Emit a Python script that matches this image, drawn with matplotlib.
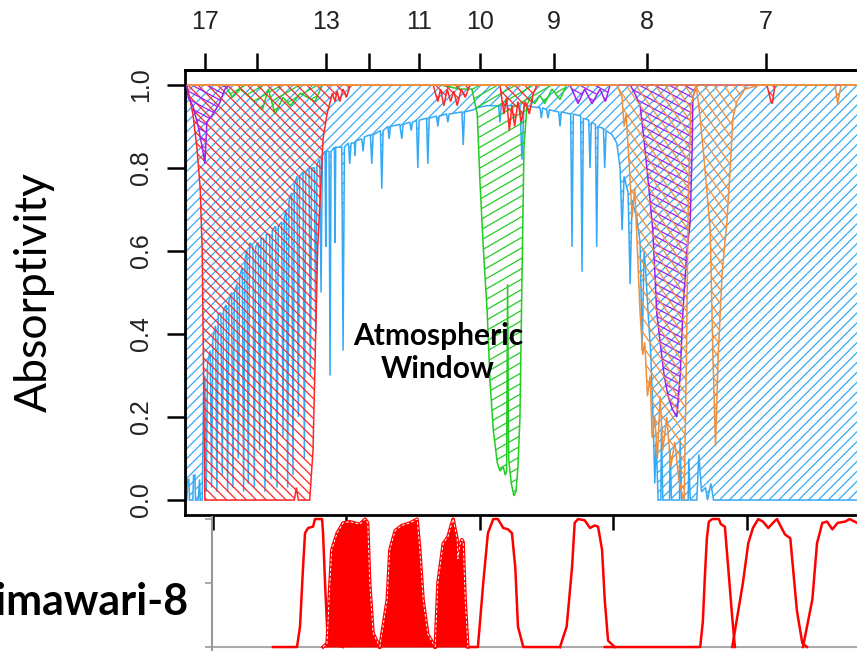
import numpy as np
import matplotlib
matplotlib.use("Agg")
import matplotlib.pyplot as plt
from matplotlib.path import Path
from matplotlib.patches import PathPatch
from matplotlib.collections import LineCollection
from matplotlib.transforms import Affine2D

plt.rcParams['font.family'] = ['Liberation Sans', 'DejaVu Sans']

# transmittance curves (wavenumber cm-1, value)
h2o_pts = [(560, 0.0), (561, 0.0), (562, 0.05), (564, 0.05), (565, 0.0), (570, 0.0), (571, 0.06),
           (573, 0.06), (574, 0.0), (578, 0.0), (580, 0.05), (581, 0.0), (584, 0.0), (586, 0.25),
           (588, 0.3), (590, 0.02), (592, 0.33), (596, 0.36), (598, 0.03), (600, 0.39), (604, 0.42),
           (606, 0.02), (608, 0.45), (612, 0.45), (614, 0.06), (616, 0.46), (620, 0.47), (622, 0.02),
           (624, 0.48), (628, 0.5), (630, 0.03), (632, 0.5), (636, 0.52), (638, 0.1), (640, 0.54),
           (644, 0.56), (646, 0.02), (648, 0.58), (651, 0.6), (653, 0.04), (655, 0.62), (660, 0.61),
           (662, 0.03), (664, 0.61), (668, 0.62), (670, 0.12), (672, 0.63), (676, 0.63), (678, 0.02),
           (680, 0.64), (685, 0.64), (687, 0.05), (689, 0.65), (694, 0.66), (696, 0.03), (698, 0.66),
           (703, 0.67), (705, 0.15), (707, 0.68), (710, 0.7), (712, 0.03), (714, 0.72), (718, 0.74),
           (720, 0.06), (722, 0.76), (726, 0.78), (728, 0.2), (730, 0.78), (735, 0.79), (737, 0.1),
           (739, 0.79), (744, 0.8), (746, 0.3), (748, 0.8), (752, 0.8), (754, 0.4), (756, 0.81),
           (760, 0.82), (762, 0.5), (764, 0.83), (768, 0.84), (769, 0.61), (770, 0.84), (774, 0.84),
           (775.5, 0.3), (777, 0.84), (782, 0.85), (783, 0.62), (784, 0.85), (793, 0.85), (795, 0.36),
           (797, 0.85), (803, 0.86), (805, 0.81), (807, 0.86), (812, 0.86), (813, 0.83), (814, 0.865),
           (823, 0.87), (825, 0.84), (827, 0.875), (836, 0.88), (838, 0.81), (840, 0.88), (851, 0.89),
           (853, 0.75), (855, 0.89), (862, 0.9), (864, 0.87), (866, 0.9), (880, 0.905), (883, 0.87),
           (885, 0.905), (895, 0.91), (897, 0.89), (899, 0.91), (905, 0.915), (907, 0.8), (909, 0.915),
           (920, 0.92), (922, 0.81), (924, 0.92), (935, 0.925), (937, 0.9), (939, 0.925), (950, 0.93),
           (952, 0.91), (954, 0.93), (973, 0.935), (975, 0.855), (977, 0.935), (990, 0.94),
           (996, 0.945), (1010, 0.95), (1028, 0.95), (1030, 0.91), (1032, 0.95), (1060, 0.95),
           (1063, 0.82), (1066, 0.95), (1090, 0.945), (1092, 0.92), (1094, 0.945), (1100, 0.94),
           (1102, 0.92), (1104, 0.94), (1118, 0.935), (1120, 0.9), (1122, 0.935), (1136, 0.93),
           (1138, 0.61), (1140, 0.93), (1151, 0.925), (1153, 0.55), (1155, 0.92), (1163, 0.915),
           (1165, 0.8), (1167, 0.91), (1173, 0.905), (1175, 0.61), (1177, 0.9), (1185, 0.895),
           (1187, 0.8), (1189, 0.89), (1198, 0.88), (1205, 0.86), (1210, 0.8), (1213, 0.65),
           (1216, 0.78), (1222, 0.74), (1225, 0.52), (1228, 0.72), (1235, 0.68), (1240, 0.62),
           (1243, 0.36), (1246, 0.6), (1248, 0.56), (1252, 0.45), (1256, 0.35), (1259, 0.22),
           (1262, 0.04), (1264, 0.14), (1267, 0.0), (1271, 0.0), (1272, 0.18), (1274, 0.0),
           (1284, 0.0), (1285, 0.12), (1287, 0.0), (1299, 0.0), (1300, 0.15), (1302, 0.0),
           (1312, 0.0), (1313, 0.1), (1315, 0.0), (1325, 0.0), (1328, 0.11), (1332, 0.02),
           (1338, 0.03), (1341, 0.0), (1346, 0.04), (1350, 0.0), (1586, 0.0)]

co2_pts = [(561, 1.0), (565, 0.97), (570, 0.93), (576, 0.85), (581, 0.75), (584, 0.6), (586, 0.3),
           (588, 0.0), (722, 0.0), (725, 0.03), (728, 0.0), (745, 0.0), (750, 0.12), (753, 0.33),
           (757, 0.61), (763, 0.8), (765, 0.87), (771, 0.93), (779, 0.98), (783, 0.96), (786, 0.985),
           (790, 0.96), (795, 0.99), (800, 0.97), (806, 1.0), (930, 1.0), (937, 0.96), (941, 0.99),
           (946, 0.95), (951, 0.99), (956, 0.96), (961, 0.985), (966, 0.95), (972, 0.99), (978, 0.97),
           (985, 1.0), (1030, 1.0), (1036, 0.93), (1040, 0.97), (1044, 0.89), (1048, 0.95),
           (1052, 0.9), (1057, 0.96), (1062, 0.91), (1068, 0.96), (1074, 0.93), (1080, 0.98),
           (1086, 1.0), (1430, 1.0), (1436, 0.96), (1438, 0.955), (1442, 1.0), (1586, 1.0)]

o3_pts = [(561, 1.0), (618, 1.0), (629, 0.97), (641, 0.99), (656, 0.97), (674, 0.94), (683, 0.99),
          (693, 0.93), (705, 0.97), (716, 0.95), (731, 0.98), (753, 0.96), (764, 1.0), (940, 1.0),
          (970, 0.99), (988, 0.99), (996, 0.93), (1000, 0.77), (1005, 0.61), (1011, 0.45),
          (1015, 0.29), (1020, 0.17), (1026, 0.09), (1030, 0.07), (1035, 0.08), (1038, 0.06),
          (1040, 0.07), (1041.5, 0.52), (1043, 0.1), (1047, 0.04), (1051, 0.01), (1054, 0.02),
          (1057, 0.08), (1060, 0.2), (1063, 0.53), (1066, 0.85), (1070.5, 0.95), (1075, 0.97),
          (1082, 0.955), (1090, 0.975), (1097, 0.955), (1108, 0.99), (1120, 0.965), (1130, 1.0),
          (1586, 1.0)]

n2o_pts = [(561, 1.0), (563, 0.97), (570, 0.95), (578, 0.9), (584, 0.85), (588, 0.81), (591, 0.91),
           (600, 0.93), (608, 0.95), (611, 0.96), (618, 0.99), (625, 1.0), (1135, 1.0),
           (1147, 0.955), (1157, 0.99), (1168, 0.955), (1180, 0.99), (1188, 0.96), (1195, 1.0),
           (1225, 1.0), (1232, 0.98), (1240, 0.95), (1247, 0.85), (1255, 0.72), (1259, 0.65),
           (1265, 0.45), (1270, 0.38), (1276, 0.3), (1282, 0.25), (1288, 0.22), (1295, 0.2),
           (1300, 0.3), (1304, 0.45), (1310, 0.6), (1315, 0.67), (1318, 0.85), (1319, 0.97),
           (1325, 1.0), (1586, 1.0)]

ch4_pts = [(561, 1.0), (1205, 1.0), (1213, 0.97), (1216, 0.9), (1219, 0.93), (1224, 0.8),
           (1228, 0.68), (1232, 0.75), (1236, 0.6), (1240, 0.45), (1244, 0.35), (1247, 0.38),
           (1251, 0.25), (1255, 0.3), (1258, 0.15), (1262, 0.2), (1266, 0.1), (1270, 0.25),
           (1274, 0.12), (1280, 0.2), (1286, 0.08), (1292, 0.14), (1298, 0.05), (1302, 0.02),
           (1306, 0.0), (1309, 0.3), (1312, 0.7), (1316, 0.95), (1324, 1.0), (1330, 0.92),
           (1337, 0.8), (1345, 0.65), (1349, 0.35), (1353, 0.13), (1357, 0.35), (1363, 0.55),
           (1370, 0.67), (1375, 0.8), (1379, 0.92), (1385, 0.96), (1397, 0.99), (1420, 1.0),
           (1532, 1.0), (1536, 0.955), (1541, 1.0), (1586, 1.0)]

# Himawari-8 spectral response (wavenumber, normalised response)
b16_wn = [690, 726, 730.5, 735, 738, 742.5, 750, 753, 763.5, 765, 768, 771, 780, 795]
b16_r = [0, 0, 0.16, 0.62, 0.89, 0.93, 0.94, 1.0, 1.0, 0.89, 0.5, 0.16, 0.03, 0]
b15_wn = [765, 771, 774, 778, 786, 795, 805, 820, 828, 832, 835, 840, 850]
b15_r = [0, 0.03, 0.37, 0.76, 0.89, 0.97, 0.98, 0.96, 1.0, 0.97, 0.5, 0.11, 0]
b14_wn = [850, 861, 865, 873, 883, 895, 906, 910, 915, 922, 933]
b14_r = [0, 0.37, 0.76, 0.91, 0.95, 0.97, 1.0, 0.76, 0.37, 0.1, 0]
b13_wn = [933, 937, 945, 952, 958, 960, 966, 967, 970, 973, 975, 978, 982]
b13_r = [0, 0.5, 0.81, 0.86, 0.97, 1.0, 0.84, 0.69, 0.8, 0.84, 0.82, 0.37, 0]
b12_wn = [982, 997, 1005, 1012, 1020, 1027, 1035, 1042, 1048, 1053, 1057, 1065, 1120]
b12_r = [0, 0, 0.5, 0.89, 1.0, 1.0, 0.93, 0.92, 0.89, 0.62, 0.16, 0, 0]
b11_wn = [1120, 1130, 1138, 1142, 1147, 1157, 1165, 1172, 1177, 1183, 1187, 1192, 1202]
b11_r = [0, 0.16, 0.62, 0.97, 1.0, 0.99, 0.93, 0.95, 0.94, 0.76, 0.37, 0.05, 0]
b10_wn = [1187, 1330, 1334, 1337, 1340, 1343, 1348, 1358, 1361, 1367, 1372, 1378, 1382]
b10_r = [0, 0, 0.2, 0.55, 0.85, 0.98, 1.0, 1.0, 0.96, 0.94, 0.62, 0.23, 0]
b9_wn = [1378, 1394, 1402, 1409, 1417, 1424, 1432, 1439, 1445, 1453, 1457, 1465, 1469, 1475, 1483, 1490]
b9_r = [0, 0.5, 0.81, 0.93, 1.0, 0.98, 0.93, 0.97, 1.0, 0.92, 0.88, 0.85, 0.62, 0.28, 0.03, 0]
b8_wn = [1484, 1498, 1505, 1513, 1520, 1528, 1536, 1547, 1554, 1565, 1577, 1600]
b8_r = [0, 0.37, 0.81, 0.97, 0.98, 0.92, 0.97, 0.98, 1.0, 0.97, 0.95, 0.9]

top_um = [17, 15, 13, 12, 11, 10, 9, 8, 7]
top_labels = ['17', '', '13', '', '11', '10', '9', '8', '7']
bottom_ticks = [600, 800, 1000, 1200, 1400]

W, H = 857, 651
fig = plt.figure(figsize=(W / 100, H / 100), dpi=100)

ax_l, ax_r, ax_t, ax_b = 185, 870, 70, 515
x_lo, x_hi = 558.2, 1584.4
ax = fig.add_axes([ax_l / W, 1 - ax_b / H, (ax_r - ax_l) / W, (ax_b - ax_t) / H])
w_px, h_px = ax_r - ax_l, ax_b - ax_t


def hatch_polygon(ax, pts, color, angle, spacing, z):
    verts = [(pts[0][0], 1.0)] + list(pts) + [(pts[-1][0], 1.0), (pts[0][0], 1.0)]
    outline = PathPatch(Path(verts, closed=True), facecolor='none', edgecolor=color,
                        lw=1.1, zorder=z + 0.1)
    ax.add_patch(outline)
    a = np.radians(angle)
    d = np.array([np.cos(a), np.sin(a)])
    n = np.array([-np.sin(a), np.cos(a)])
    diag = np.hypot(w_px, h_px)
    centre = np.array([w_px / 2, h_px / 2])
    segs = [[centre + c * n - diag * d, centre + c * n + diag * d]
            for c in np.arange(-diag / 2, diag / 2, spacing)]
    lc = LineCollection(segs, colors=color, linewidths=0.9, zorder=z,
                        transform=Affine2D().scale(1 / w_px, 1 / h_px) + ax.transAxes)
    ax.add_collection(lc, autolim=False)
    lc.set_clip_path(outline)


hatch_polygon(ax, h2o_pts, '#35A9F5', 45, 7, 2)
hatch_polygon(ax, o3_pts, '#22CC22', 30, 9, 3)
hatch_polygon(ax, co2_pts, '#FF2626', -45, 7, 4)
hatch_polygon(ax, n2o_pts, '#A020F0', -28, 7, 5)
hatch_polygon(ax, ch4_pts, '#EE9040', -55, 8, 6)

ax.set_xlim(x_lo, x_hi)
ax.set_ylim(-0.036, 1.036)
ax.set_yticks([0, 0.2, 0.4, 0.6, 0.8, 1.0])
ax.set_yticklabels(['0.0', '0.2', '0.4', '0.6', '0.8', '1.0'])
ax.tick_params(axis='y', length=13, width=1.8, labelsize=18, pad=10, labelrotation=90,
               labelcolor='#222222')
for lbl in ax.get_yticklabels():
    lbl.set_verticalalignment('center')
ax.set_xticks(bottom_ticks)
ax.tick_params(axis='x', length=11, width=1.8, labelbottom=False)
for s in ax.spines.values():
    s.set_linewidth(2)

sec = ax.secondary_xaxis('top')
sec.set_xticks([10000 / u for u in top_um])
sec.set_xticklabels(top_labels)
sec.tick_params(length=12, width=1.8, labelsize=18, pad=14, labelcolor='#222222')
sec.spines['top'].set_linewidth(2)

ax.text(937, 0.355, 'Atmospheric\nWindow', ha='center', va='center', fontsize=21.5,
        fontweight='bold', family='Lato', linespacing=1.2, zorder=10)

fig.text(34 / W, 1 - 292 / H, 'Absorptivity', rotation=90, ha='center', va='center',
         fontsize=32, family='Lato')

# bottom panel: Himawari-8 response functions
b_l, b_t = 212, 517
ax2 = fig.add_axes([b_l / W, 0, (ax_r - b_l) / W, (H - b_t) / H])
ax2.set_facecolor('none')
ax2.axhline(0, color='#AAAAAA', lw=1.5, zorder=0)
for wn, r in [(b16_wn, b16_r), (b12_wn, b12_r), (b11_wn, b11_r), (b10_wn, b10_r),
              (b9_wn, b9_r), (b8_wn, b8_r)]:
    ax2.plot(wn, r, color='#FF0000', lw=1.8)
for wn, r in [(b15_wn, b15_r), (b14_wn, b14_r), (b13_wn, b13_r)]:
    ax2.fill_between(wn, r, 0, color='#FF0000', lw=0)
    ax2.plot(wn, r, color='#FF0000', lw=2.4)
    ax2.plot(wn, r, color='white', lw=0.7, dashes=(3, 2))
ax2.set_xlim(x_lo + (b_l - ax_l) * (x_hi - x_lo) / w_px, x_hi)
ax2.set_ylim(-0.031, 1.016)
ax2.set_xticks([])
ax2.set_yticks([0, 0.5, 1.0])
ax2.tick_params(axis='y', length=5, width=1.2, color='#999999', labelleft=False)
for k in ['top', 'right', 'bottom']:
    ax2.spines[k].set_visible(False)
ax2.spines['left'].set_color('#999999')
ax2.spines['left'].set_linewidth(1.5)

fig.text(189 / W, 1 - 615 / H, 'Himawari-8', ha='right', va='baseline', fontsize=31,
         fontweight='bold', family='Lato')

fig.savefig('out.png', dpi=100)
